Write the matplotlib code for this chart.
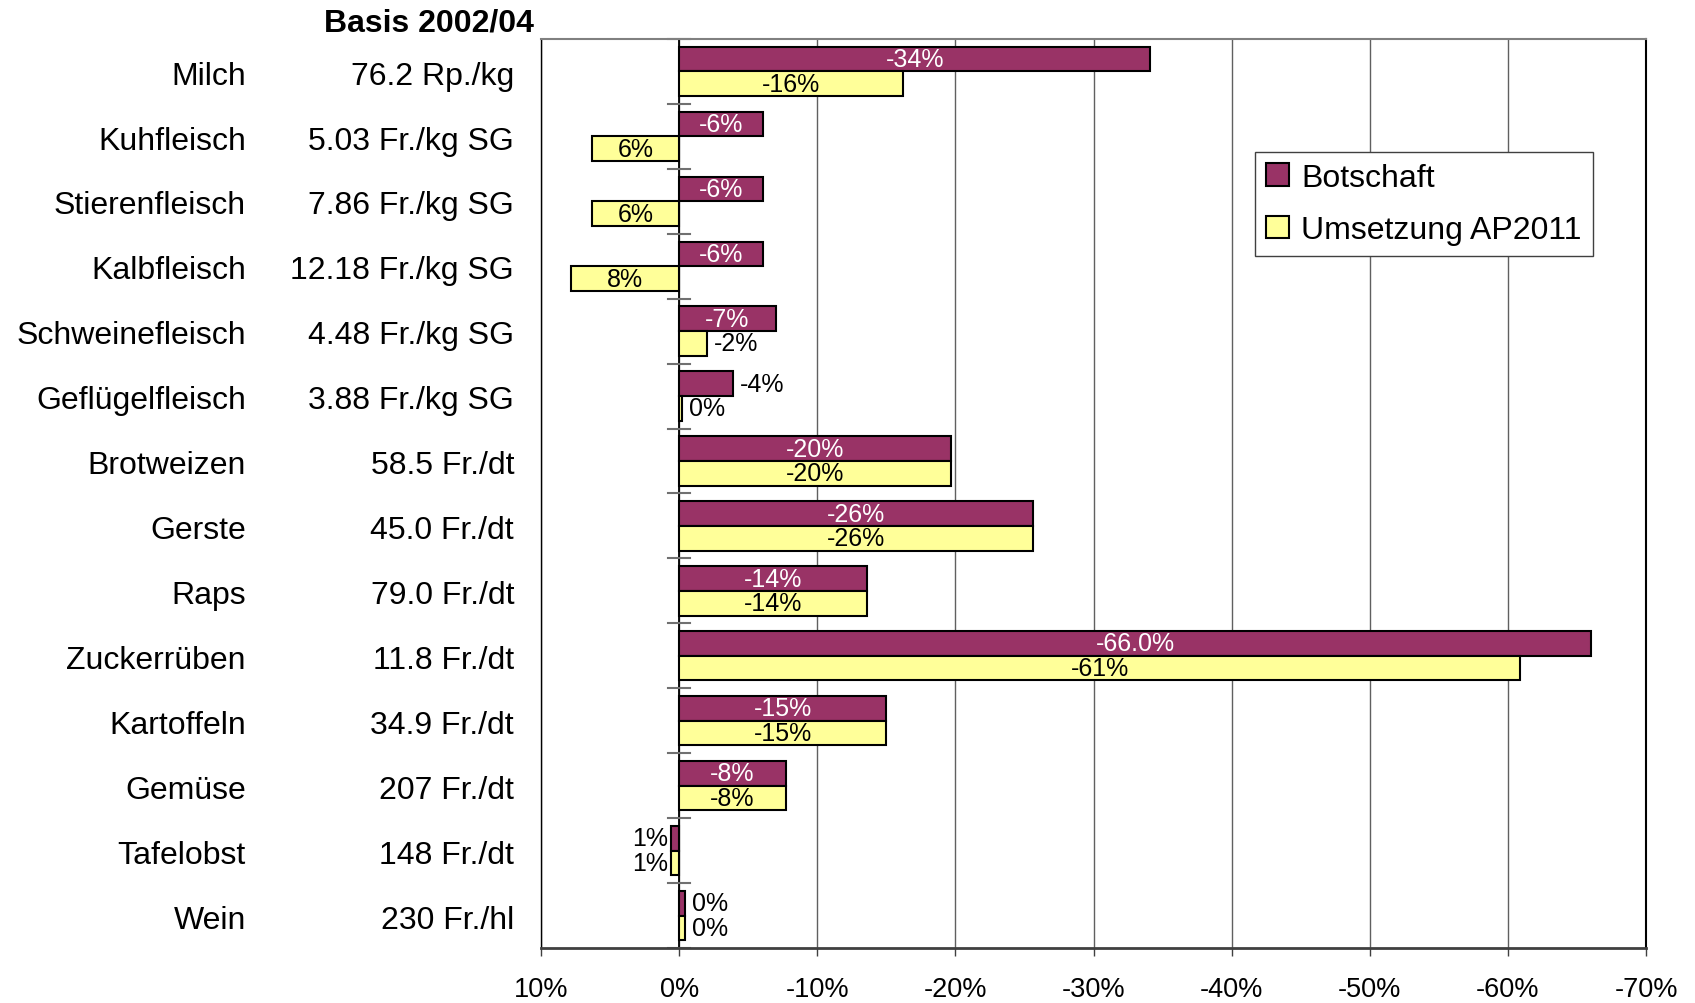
import matplotlib
matplotlib.use("Agg")
import matplotlib.pyplot as plt
import matplotlib.transforms as mtransforms
from matplotlib.ticker import FuncFormatter, MultipleLocator

plt.rcParams["font.family"] = ["Liberation Sans", "DejaVu Sans"]

# Daten (Preisveränderung in %, Basis 2002/04)
categories = ["Milch", "Kuhfleisch", "Stierenfleisch", "Kalbfleisch", "Schweinefleisch",
              "Geflügelfleisch", "Brotweizen", "Gerste", "Raps", "Zuckerrüben",
              "Kartoffeln", "Gemüse", "Tafelobst", "Wein"]
basis = ["76.2 Rp./kg", "5.03 Fr./kg SG", "7.86 Fr./kg SG", "12.18 Fr./kg SG",
         "4.48 Fr./kg SG", "3.88 Fr./kg SG", "58.5 Fr./dt", "45.0 Fr./dt",
         "79.0 Fr./dt", "11.8 Fr./dt", "34.9 Fr./dt", "207 Fr./dt",
         "148 Fr./dt", "230 Fr./hl"]
botschaft = [-34.1, -6.1, -6.1, -6.1, -7.0, -3.9, -19.7, -25.6, -13.6, -66.0,
             -15.0, -7.7, 0.6, -0.4]
umsetzung = [-16.2, 6.3, 6.3, 7.8, -2.0, -0.2, -19.7, -25.6, -13.6, -60.9,
             -15.0, -7.7, 0.6, -0.4]
bot_labels = ["-34%", "-6%", "-6%", "-6%", "-7%", "-4%", "-20%", "-26%", "-14%",
              "-66.0%", "-15%", "-8%", "1%", "0%"]
ums_labels = ["-16%", "6%", "6%", "8%", "-2%", "0%", "-20%", "-26%", "-14%",
              "-61%", "-15%", "-8%", "1%", "0%"]

purple = "#993366"
yellow = "#FFFF99"

fig = plt.figure(figsize=(16.95, 10.04), dpi=100)
ax = fig.add_axes([0.3192, 0.0548, 0.6519, 0.9054])

y = list(range(len(categories)))
h = 0.38
b1 = ax.barh([v - h / 2 for v in y], botschaft, height=h, color=purple,
             edgecolor="black", linewidth=1.5, label="Botschaft", zorder=3)
b2 = ax.barh([v + h / 2 for v in y], umsetzung, height=h, color=yellow,
             edgecolor="black", linewidth=1.5, label="Umsetzung AP2011", zorder=3)

# Datenbeschriftungen
def beschriften(bars, labels, inner_color):
    for rect, val, lab in zip(bars, [r.get_width() for r in bars], labels):
        yc = rect.get_y() + rect.get_height() / 2
        if abs(val) >= 5:
            ax.text(val / 2, yc, lab, ha="center", va="center", fontsize=18,
                    color=inner_color, zorder=4)
        elif val > 0:
            ax.annotate(lab, (val, yc), xytext=(-2, 0), textcoords="offset points",
                        ha="right", va="center", fontsize=18, zorder=4)
        else:
            ax.annotate(lab, (val, yc), xytext=(5, 0), textcoords="offset points",
                        ha="left", va="center", fontsize=18, zorder=4)

beschriften(b1, bot_labels, "white")
beschriften(b2, ums_labels, "black")

ax.set_xlim(10, -70)
ax.set_ylim(len(categories) - 0.5, -0.5)
ax.xaxis.set_major_locator(MultipleLocator(10))
ax.xaxis.set_major_formatter(FuncFormatter(lambda v, p: f"{int(round(v))}%"))
ax.tick_params(axis="x", labelsize=19.5, length=6, width=1, color="#404040",
               pad=14, direction="out")
ax.set_yticks([])
ax.grid(axis="x", color="#606060", linewidth=1, zorder=0)
ax.axvline(0, color="black", linewidth=1.3, zorder=2)

# Kategorien-Striche auf der Nulllinie
for k in range(len(categories) + 1):
    ax.plot([0.8, -0.8], [k - 0.5, k - 0.5], color="#707070", linewidth=1.5,
            zorder=2, clip_on=False)

ax.spines["top"].set_color("#808080")
ax.spines["top"].set_linewidth(1.5)
ax.spines["bottom"].set_color("#404040")
ax.spines["bottom"].set_linewidth(2)
ax.spines["left"].set_color("black")
ax.spines["left"].set_linewidth(1)
ax.spines["right"].set_color("black")
ax.spines["right"].set_linewidth(1.5)

# Beschriftung links: Produkt und Basispreis
trans = mtransforms.blended_transform_factory(fig.transFigure, ax.transData)
trans = mtransforms.offset_copy(trans, fig=fig, y=-3, units="points")
for i, (name, preis) in enumerate(zip(categories, basis)):
    ax.text(0.1451, i, name, transform=trans, ha="right", va="center", fontsize=23)
    ax.text(0.3033, i, preis, transform=trans, ha="right", va="center", fontsize=23)
fig.text(0.3147, 0.977, "Basis 2002/04", ha="right", va="center", fontsize=23,
         fontweight="bold")

leg = ax.legend(loc="upper right", bbox_to_anchor=(0.952, 0.876), fontsize=23,
                fancybox=False, framealpha=1, edgecolor="#404040",
                handlelength=0.7, handleheight=0.7, handletextpad=0.4,
                labelspacing=0.7, borderpad=0.35, borderaxespad=0)
leg.get_frame().set_linewidth(1)

fig.savefig("out.png", dpi=100)
